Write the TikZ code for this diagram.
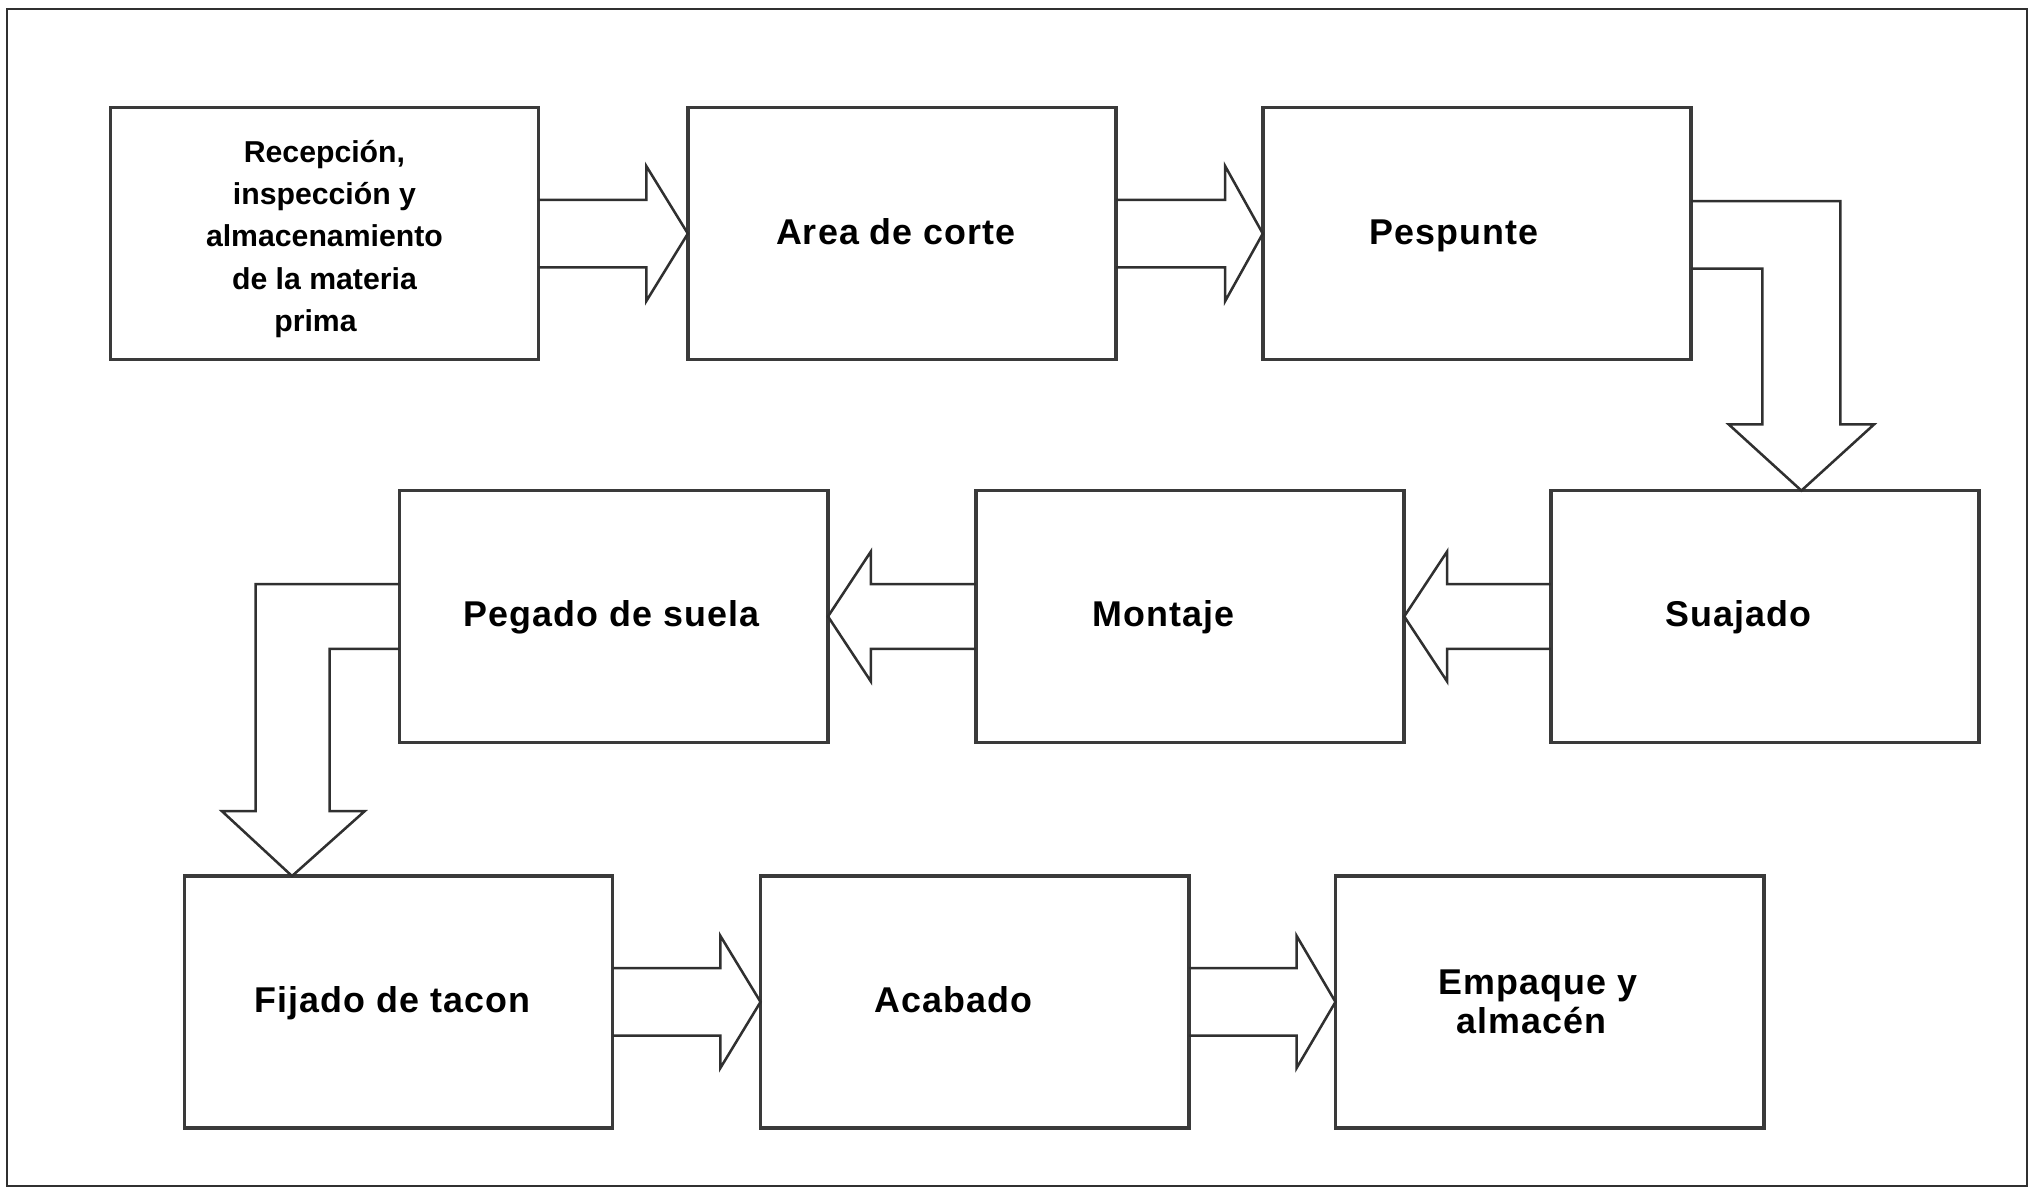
\documentclass[tikz,border=0pt]{standalone}
\usepackage{fontspec}
\setmainfont{Liberation Sans}
\newfontfamily\boxfont[LetterSpace=3]{Liberation Sans}
\usetikzlibrary{calc}
\definecolor{boxgray}{HTML}{3A3A3A}
\definecolor{arrgray}{HTML}{303030}
\newcommand{\sh}[1]{\hspace*{#1}}
\begin{document}
\begin{tikzpicture}[x=0.06489cm, y=-0.06489cm,
  box/.style={draw=boxgray, line width=5pt, minimum width=21.414cm, minimum height=12.589cm,
    inner sep=0pt, outer sep=0pt, anchor=north west, text=black,
    font={\boxfont\bfseries\fontsize{51}{58}\selectfont}},
  onebox/.style={box, text height=1.3cm, text depth=0.25cm},
  firstbox/.style={box, align=center, font={\bfseries\fontsize{43}{59.8}\selectfont}},
  arr/.style={draw=arrgray, line width=3.6pt, line join=miter},
  frame/.style={draw=arrgray, line width=3pt}]
\useasboundingbox (0,0) rectangle (1568,916);
\draw[frame] (5.5,7) rectangle (1562,914);

\node[firstbox] (b1) at (85,83) {\rule{0pt}{1.65cm}Recepción,\\inspección y\\almacenamiento\\de la materia\\prima\sh{0.9cm}};
\node[onebox] (b2) at (530,83) {Area de corte\sh{0.6cm}};
\node[onebox] (b3) at (973,83) {Pespunte\sh{2.3cm}};
\node[onebox] (b4) at (308,378) {Pegado de suela\sh{0.2cm}};
\node[onebox] (b5) at (752,378) {Montaje\sh{2.7cm}};
\node[onebox] (b6) at (1195,378) {Suajado\sh{2.7cm}};
\node[onebox] (b7) at (142,675) {Fijado de tacon\sh{0.6cm}};
\node[onebox] (b8) at (586,675) {Acabado\sh{2.1cm}};
\node[box, align=center, font={\boxfont\bfseries\fontsize{51}{56}\selectfont}] (b9) at (1029,675) {Empaque y\sh{1.2cm}\\almacén\sh{1.8cm}};

% straight arrows, row 1
\draw[arr] ($(b1.east)+(0,-26)$) -- ($(b2.west)+(-32,-26)$) -- ($(b2.west)+(-32,-52)$) -- (b2.west)
  -- ($(b2.west)+(-32,52)$) -- ($(b2.west)+(-32,26)$) -- ($(b1.east)+(0,26)$);
\draw[arr] ($(b2.east)+(0,-26)$) -- ($(b3.west)+(-29,-26)$) -- ($(b3.west)+(-29,-52)$) -- (b3.west)
  -- ($(b3.west)+(-29,52)$) -- ($(b3.west)+(-29,26)$) -- ($(b2.east)+(0,26)$);

% bent arrow b3 -> b6
\coordinate (t36) at ($(b6.north)+(28,0)$);
\draw[arr] ($(b3.east)+(0,-25)$) -| ($(t36)+(30,-51)$) -- ($(t36)+(56,-51)$) -- (t36)
  -- ($(t36)+(-56,-51)$) -- ($(t36)+(-30,-51)$) |- ($(b3.east)+(0,27)$);

% row 2 leftward arrows
\draw[arr] ($(b6.west)+(0,-25)$) -- ($(b5.east)+(33,-25)$) -- ($(b5.east)+(33,-50)$) -- (b5.east)
  -- ($(b5.east)+(33,50)$) -- ($(b5.east)+(33,25)$) -- ($(b6.west)+(0,25)$);
\draw[arr] ($(b5.west)+(0,-25)$) -- ($(b4.east)+(33,-25)$) -- ($(b4.east)+(33,-50)$) -- (b4.east)
  -- ($(b4.east)+(33,50)$) -- ($(b4.east)+(33,25)$) -- ($(b5.west)+(0,25)$);

% bent arrow b4 -> b7
\coordinate (t47) at ($(b7.north)+(-82,0)$);
\draw[arr] ($(b4.west)+(0,-25)$) -| ($(t47)+(-28,-50)$) -- ($(t47)+(-54,-50)$) -- (t47)
  -- ($(t47)+(56,-50)$) -- ($(t47)+(29,-50)$) |- ($(b4.west)+(0,25)$);

% row 3 arrows
\draw[arr] ($(b7.east)+(0,-26)$) -- ($(b8.west)+(-31,-26)$) -- ($(b8.west)+(-31,-51)$) -- (b8.west)
  -- ($(b8.west)+(-31,51)$) -- ($(b8.west)+(-31,26)$) -- ($(b7.east)+(0,26)$);
\draw[arr] ($(b8.east)+(0,-26)$) -- ($(b9.west)+(-30,-26)$) -- ($(b9.west)+(-30,-51)$) -- (b9.west)
  -- ($(b9.west)+(-30,51)$) -- ($(b9.west)+(-30,26)$) -- ($(b8.east)+(0,26)$);
\end{tikzpicture}
\end{document}
